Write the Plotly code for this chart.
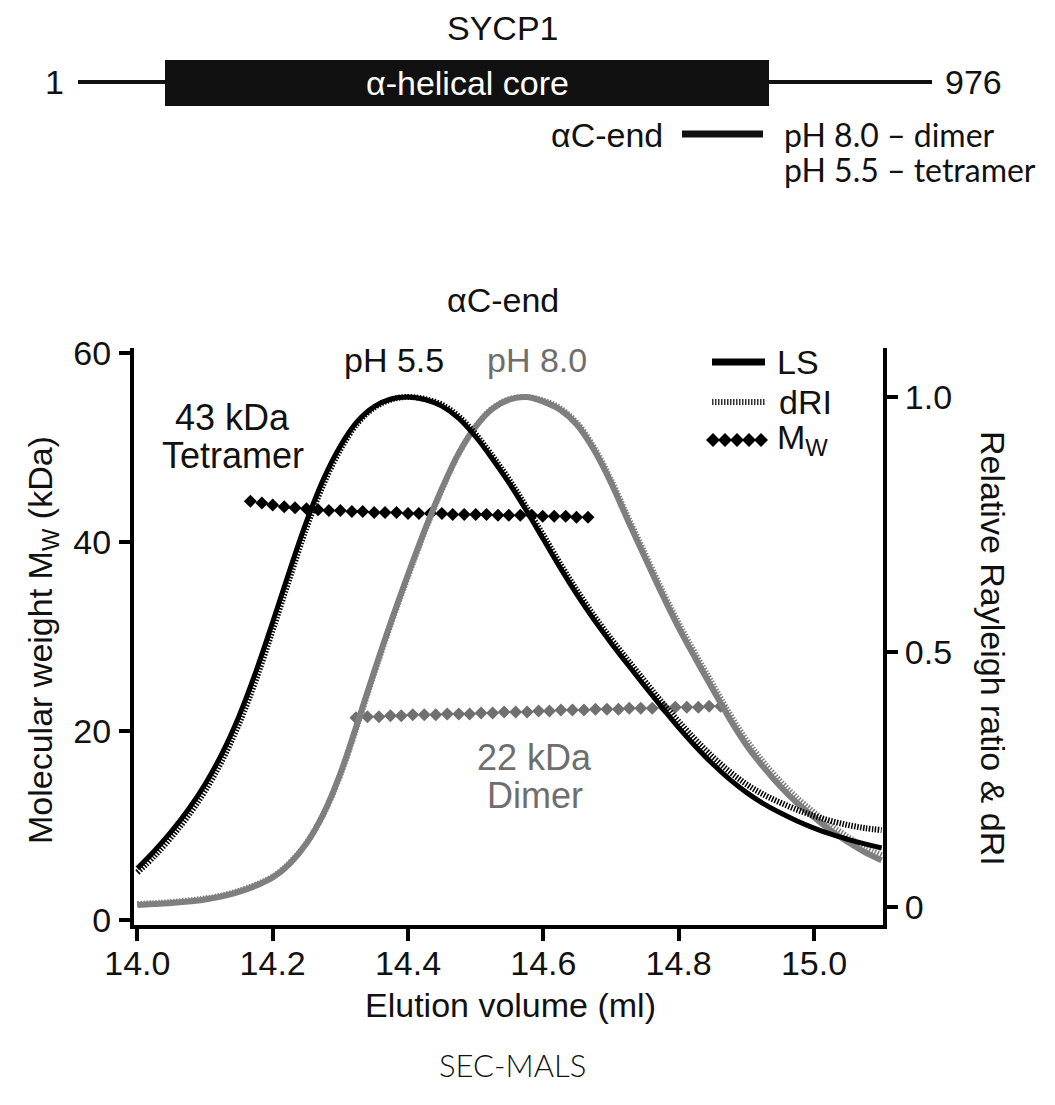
import plotly.graph_objects as go

# ---------------- data ----------------
vol = [14.000, 14.025, 14.050, 14.075, 14.100, 14.125, 14.150, 14.175, 14.200, 14.225,
       14.250, 14.275, 14.300, 14.325, 14.350, 14.375, 14.400, 14.425, 14.450, 14.475,
       14.500, 14.525, 14.550, 14.575, 14.600, 14.625, 14.650, 14.675, 14.700, 14.725,
       14.750, 14.775, 14.800, 14.825, 14.850, 14.875, 14.900, 14.925, 14.950, 14.975,
       15.000, 15.025, 15.050, 15.075, 15.100]

ls_ph55 = [0.076, 0.110, 0.148, 0.191, 0.241, 0.301, 0.374, 0.461, 0.559, 0.660,
           0.756, 0.839, 0.904, 0.952, 0.981, 0.996, 1.000, 0.995, 0.982, 0.958,
           0.922, 0.878, 0.830, 0.777, 0.721, 0.665, 0.612, 0.563, 0.518, 0.475,
           0.433, 0.392, 0.352, 0.315, 0.281, 0.251, 0.225, 0.203, 0.185, 0.169,
           0.155, 0.143, 0.133, 0.124, 0.116]

dri_ph55 = [0.068, 0.100, 0.137, 0.179, 0.228, 0.287, 0.359, 0.445, 0.543, 0.645,
            0.744, 0.829, 0.897, 0.948, 0.979, 0.995, 1.000, 0.996, 0.985, 0.962,
            0.927, 0.884, 0.837, 0.784, 0.729, 0.673, 0.620, 0.571, 0.526, 0.484,
            0.443, 0.402, 0.364, 0.328, 0.295, 0.266, 0.241, 0.221, 0.205, 0.191,
            0.179, 0.169, 0.161, 0.155, 0.151]

ls_ph80 = [0.004, 0.006, 0.008, 0.011, 0.015, 0.021, 0.030, 0.042, 0.058, 0.085,
           0.125, 0.183, 0.262, 0.360, 0.462, 0.560, 0.652, 0.740, 0.820, 0.890,
           0.942, 0.977, 0.995, 1.000, 0.991, 0.975, 0.945, 0.896, 0.832, 0.758,
           0.686, 0.615, 0.548, 0.487, 0.428, 0.370, 0.318, 0.275, 0.237, 0.204,
           0.176, 0.150, 0.128, 0.108, 0.092]

dri_ph80 = [0.006, 0.008, 0.010, 0.013, 0.017, 0.023, 0.032, 0.044, 0.060, 0.087,
            0.126, 0.182, 0.259, 0.356, 0.458, 0.556, 0.648, 0.737, 0.818, 0.889,
            0.942, 0.978, 0.996, 1.000, 0.993, 0.978, 0.949, 0.901, 0.838, 0.765,
            0.694, 0.623, 0.557, 0.496, 0.438, 0.380, 0.328, 0.285, 0.247, 0.214,
            0.186, 0.160, 0.138, 0.118, 0.102]

mw_ph55_vol = [14.167, 14.184, 14.200, 14.217, 14.233, 14.250, 14.267, 14.283, 14.300, 14.317,
               14.333, 14.350, 14.366, 14.383, 14.400, 14.416, 14.433, 14.450, 14.466, 14.483,
               14.500, 14.516, 14.533, 14.549, 14.566, 14.583, 14.599, 14.616, 14.633, 14.649,
               14.666]
mw_ph55 = [44.3, 44.1, 43.9, 43.7, 43.6, 43.5, 43.4, 43.3, 43.3, 43.2,
           43.2, 43.1, 43.1, 43.1, 43.0, 43.0, 43.0, 43.0, 42.9, 42.9,
           42.9, 42.9, 42.8, 42.8, 42.8, 42.8, 42.7, 42.7, 42.7, 42.6,
           42.6]

mw_ph80_vol = [14.323, 14.340, 14.357, 14.374, 14.390, 14.407, 14.424, 14.441, 14.458, 14.475,
               14.491, 14.508, 14.525, 14.542, 14.559, 14.576, 14.593, 14.609, 14.626, 14.643,
               14.660, 14.677, 14.694, 14.711, 14.727, 14.744, 14.761, 14.778, 14.795, 14.812,
               14.829, 14.845, 14.862]
mw_ph80 = [21.4, 21.5, 21.5, 21.6, 21.6, 21.7, 21.7, 21.7, 21.8, 21.8,
           21.8, 21.9, 21.9, 22.0, 22.0, 22.0, 22.1, 22.1, 22.2, 22.2,
           22.2, 22.3, 22.3, 22.3, 22.4, 22.4, 22.4, 22.5, 22.5, 22.5,
           22.5, 22.6, 22.6]

x_ticks = [14.0, 14.2, 14.4, 14.6, 14.8, 15.0]
x_ticklabels = ["14.0", "14.2", "14.4", "14.6", "14.8", "15.0"]
left_ticks = [0, 20, 40, 60]
right_ticks = [0, 0.5, 1.0]
right_ticklabels = ["0", "0.5", "1.0"]

# ---------------- style ----------------
W, H = 1055, 1105
ARIAL = "Liberation Sans, Arial, sans-serif"
CAL = "Lato, Calibri, sans-serif"
BLACK = "#000000"
GREY = "#7f7f7f"
GREY_TXT = "#6e6e6e"
FS = 34


def px(x):
    return x / W


def py(y):
    return 1 - y / H


fig = go.Figure()

# curves (right axis)
fig.add_trace(go.Scatter(x=vol, y=ls_ph80, yaxis="y2", mode="lines",
                         line=dict(color=GREY, width=6, shape="spline")))
fig.add_trace(go.Scatter(x=vol, y=dri_ph80, yaxis="y2", mode="lines",
                         line=dict(color=GREY, width=6, shape="spline", dash="1.5px,1.5px")))
fig.add_trace(go.Scatter(x=vol, y=ls_ph55, yaxis="y2", mode="lines",
                         line=dict(color=BLACK, width=5, shape="spline")))
fig.add_trace(go.Scatter(x=vol, y=dri_ph55, yaxis="y2", mode="lines",
                         line=dict(color=BLACK, width=6, shape="spline", dash="1.5px,1.5px")))
# molar mass (left axis)
fig.add_trace(go.Scatter(x=mw_ph80_vol, y=mw_ph80, yaxis="y", mode="markers",
                         marker=dict(symbol="diamond", size=10, color="#707070", line=dict(width=0))))
fig.add_trace(go.Scatter(x=mw_ph55_vol, y=mw_ph55, yaxis="y", mode="markers",
                         marker=dict(symbol="diamond", size=10, color=BLACK, line=dict(width=0))))

x0, x1 = 134, 883
ytop, ybot = 348, 925

fig.update_layout(
    width=W, height=H,
    margin=dict(l=0, r=0, t=0, b=0, autoexpand=False),
    paper_bgcolor="white", plot_bgcolor="white",
    showlegend=False,
    xaxis=dict(domain=[px(x0), px(x1)], range=[13.995, 15.102],
               tickvals=x_ticks, ticktext=x_ticklabels,
               showline=True, linecolor=BLACK, linewidth=4,
               ticks="outside", ticklen=12, tickwidth=4, tickcolor=BLACK,
               ticklabelstandoff=-7,
               tickfont=dict(family=ARIAL, size=FS, color="#111"),
               showgrid=False, zeroline=False, anchor="y", automargin=False),
    yaxis=dict(domain=[py(ybot), py(ytop)], range=[-0.53, 60.5],
               tickvals=left_ticks, showline=True, linecolor=BLACK, linewidth=4,
               ticks="outside", ticklen=11, tickwidth=4, tickcolor=BLACK,
               ticklabelstandoff=1,
               tickfont=dict(family=ARIAL, size=FS, color="#111"),
               showgrid=False, zeroline=False, automargin=False),
    yaxis2=dict(overlaying="y", side="right", range=[-0.035, 1.096],
                tickvals=right_ticks, ticktext=right_ticklabels,
                showline=True, linecolor=BLACK, linewidth=4,
                ticks="outside", ticklen=11, tickwidth=4, tickcolor=BLACK,
                tickfont=dict(family=ARIAL, size=FS, color="#111"),
                showgrid=False, zeroline=False, automargin=False),
)

shapes = []
annotations = []


def text(x, y, s, size=FS, color="#111", family=ARIAL, xanchor="center", angle=0, weight=None):
    f = dict(family=family, size=size, color=color)
    if weight:
        f["weight"] = weight
    annotations.append(dict(x=px(x), y=py(y), xref="paper", yref="paper", text=s,
                            showarrow=False, font=f, xanchor=xanchor, yanchor="middle",
                            textangle=angle))


def hline(xa, xb, y, width, color="#111", dash=None):
    ln = dict(color=color, width=width)
    if dash:
        ln["dash"] = dash
    shapes.append(dict(type="line", xref="paper", yref="paper", x0=px(xa), x1=px(xb),
                       y0=py(y), y1=py(y), line=ln))


# --- top schematic ---
text(503, 28, "SYCP1")
text(54, 82, "1")
hline(78, 166, 82, 4)
shapes.append(dict(type="rect", xref="paper", yref="paper", x0=px(165), x1=px(769),
                   y0=py(106), y1=py(60), fillcolor="#111", line=dict(width=0)))
hline(768, 932, 82, 4)
text(973, 82, "976")
text(467, 83, "α-helical core", color="white")
text(665, 135, "αC-end", xanchor="right")
hline(682, 763, 134, 7)
text(782, 134, "pH 8.0 – dimer", size=32, family=CAL, xanchor="left")
text(782, 169, "pH 5.5 – tetramer", size=32, family=CAL, xanchor="left")

# --- chart labels ---
text(503, 300, "αC-end")
text(394, 360, "pH 5.5")
text(537, 360, "pH 8.0", color=GREY_TXT)
text(232, 417, "43 kDa", size=36)
text(233, 455, "Tetramer", size=36)
text(534, 757, "22 kDa", size=36, color=GREY_TXT)
text(535, 795, "Dimer", size=36, color=GREY_TXT)
text(510, 1005, "Elution volume (ml)")
text(512, 1065, "SEC-MALS", size=31, family=CAL, weight=300)
text(42, 640, "Molecular weight M<sub>W</sub> (kDa)", angle=-90)
text(993, 648, "Relative Rayleigh ratio &amp; dRI", angle=90)

# --- legend ---
hline(712, 765, 362, 7, color=BLACK)
text(775, 362, "LS", xanchor="left")
hline(712, 765, 402, 6, color="#333", dash="1.5px,1.5px")
text(777, 402, "dRI", xanchor="left")
for cx in [713, 725, 737, 749, 761]:
    hx, hy = 7 / W, 7 / H
    X, Y = px(cx), py(440)
    shapes.append(dict(type="path", xref="paper", yref="paper",
                       path=f"M {X-hx} {Y} L {X} {Y+hy} L {X+hx} {Y} L {X} {Y-hy} Z",
                       fillcolor=BLACK, line=dict(width=0)))
text(775, 440, "M<sub>W</sub>", xanchor="left")

fig.update_layout(shapes=shapes, annotations=annotations)
fig.write_html("out.html", config={"displayModeBar": False},
               post_script="document.body.style.margin='0px';")
